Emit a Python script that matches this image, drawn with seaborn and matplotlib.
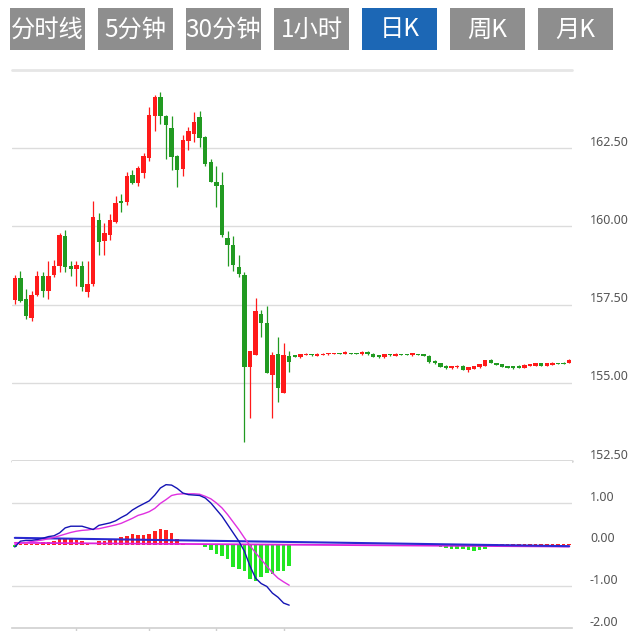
import numpy as np
import matplotlib
matplotlib.use("Agg")
import matplotlib.pyplot as plt
import seaborn as sns
from matplotlib.patches import Rectangle

# ---------------- data ----------------
buttons = ["分时线", "5分钟", "30分钟", "1小时", "日K", "周K", "月K"]
active_button = "日K"

opens = [157.66, 158.36, 157.69, 157.08, 157.82, 158.40, 157.92, 158.46, 158.72, 159.68,
         158.72, 158.65, 158.75, 157.89, 158.17, 160.22, 159.52, 159.71, 160.13, 160.80,
         160.77, 161.64, 161.38, 161.70, 162.18, 163.53, 164.14, 163.53, 163.14, 162.24,
         161.83, 162.73, 162.95, 163.49, 162.85, 162.05, 161.41, 161.31, 159.62, 159.39,
         158.69, 158.46, 155.51, 155.90, 157.21, 156.92, 155.26, 155.93, 154.68, 155.87,
         155.88, 155.82, 155.89, 155.90, 155.87, 155.89, 155.91, 155.92, 155.94, 155.93,
         155.95, 155.95, 155.91, 155.98, 155.93, 155.89, 155.82, 155.90, 155.86, 155.91,
         155.91, 155.88, 155.91, 155.91, 155.86, 155.71, 155.63, 155.55, 155.47, 155.49,
         155.55, 155.42, 155.45, 155.49, 155.55, 155.74, 155.63, 155.60, 155.54, 155.54,
         155.55, 155.47, 155.54, 155.55, 155.62, 155.55, 155.58, 155.63, 155.64, 155.63]
highs = [158.46, 158.59, 158.01, 157.95, 158.56, 158.53, 158.88, 158.91, 159.78, 159.90,
         158.88, 158.88, 158.88, 158.88, 160.80, 160.42, 160.10, 160.39, 160.96, 161.03,
         161.73, 161.80, 161.92, 162.34, 163.81, 164.20, 164.30, 163.56, 163.53, 162.28,
         162.92, 163.17, 163.65, 163.69, 162.89, 162.15, 161.92, 161.73, 159.84, 159.68,
         159.07, 158.53, 156.03, 157.70, 157.34, 157.44, 155.99, 156.48, 156.28, 156.03,
         155.90, 155.93, 155.94, 155.91, 155.94, 155.95, 155.95, 155.96, 155.95, 156.01,
         155.96, 155.96, 156.03, 156.01, 155.94, 155.90, 155.92, 155.91, 155.94, 155.92,
         155.92, 155.95, 155.92, 155.92, 155.88, 155.72, 155.64, 155.56, 155.55, 155.57,
         155.57, 155.50, 155.55, 155.61, 155.73, 155.76, 155.64, 155.61, 155.55, 155.55,
         155.56, 155.59, 155.61, 155.63, 155.63, 155.63, 155.65, 155.64, 155.65, 155.76]
lows = [157.53, 157.57, 157.05, 156.99, 157.76, 157.73, 157.69, 158.37, 158.53, 158.53,
        158.40, 158.08, 157.95, 157.73, 158.08, 159.07, 159.07, 159.58, 160.10, 160.45,
        160.67, 161.35, 161.28, 161.54, 162.08, 163.05, 163.27, 162.15, 161.80, 161.25,
        161.60, 162.44, 162.69, 162.53, 161.92, 161.41, 160.61, 159.65, 158.72, 158.56,
        158.37, 153.11, 153.88, 155.90, 156.48, 155.32, 153.88, 154.39, 154.68, 155.35,
        155.82, 155.80, 155.88, 155.87, 155.86, 155.88, 155.90, 155.91, 155.91, 155.92,
        155.92, 155.91, 155.90, 155.90, 155.83, 155.80, 155.80, 155.87, 155.85, 155.88,
        155.88, 155.87, 155.88, 155.86, 155.63, 155.61, 155.50, 155.45, 155.45, 155.48,
        155.40, 155.36, 155.44, 155.48, 155.54, 155.62, 155.56, 155.49, 155.46, 155.45,
        155.46, 155.46, 155.53, 155.54, 155.54, 155.54, 155.57, 155.60, 155.59, 155.62]
closes = [158.36, 157.61, 157.12, 157.82, 158.43, 157.92, 158.43, 158.72, 159.71, 158.69,
          158.65, 158.78, 158.05, 158.17, 160.29, 159.49, 159.78, 160.19, 160.74, 160.74,
          161.60, 161.38, 161.86, 162.24, 163.56, 164.14, 163.53, 163.24, 162.21, 161.80,
          162.76, 163.05, 163.33, 162.82, 161.99, 161.41, 161.28, 159.74, 159.42, 158.78,
          158.49, 155.51, 156.03, 157.28, 156.92, 155.32, 155.90, 154.84, 155.90, 155.67,
          155.84, 155.91, 155.92, 155.88, 155.92, 155.93, 155.94, 155.95, 155.92, 155.97,
          155.93, 155.92, 155.97, 155.91, 155.84, 155.82, 155.91, 155.88, 155.93, 155.89,
          155.89, 155.94, 155.89, 155.87, 155.65, 155.63, 155.52, 155.47, 155.54, 155.55,
          155.42, 155.49, 155.54, 155.60, 155.72, 155.63, 155.58, 155.50, 155.47, 155.47,
          155.47, 155.58, 155.60, 155.62, 155.55, 155.62, 155.64, 155.61, 155.60, 155.73]

dif = [-0.05, 0.09, 0.11, 0.11, 0.13, 0.16, 0.20, 0.22, 0.29, 0.41,
       0.45, 0.45, 0.45, 0.41, 0.37, 0.47, 0.50, 0.53, 0.58, 0.66,
       0.73, 0.84, 0.92, 0.99, 1.06, 1.20, 1.37, 1.45, 1.44, 1.36,
       1.25, 1.21, 1.20, 1.19, 1.13, 1.01, 0.85, 0.69, 0.49, 0.29,
       0.09, -0.15, -0.51, -0.80, -0.93, -1.00, -1.16, -1.26, -1.40, -1.45]
dea = [0.01, 0.05, 0.06, 0.08, 0.10, 0.12, 0.15, 0.18, 0.22, 0.26,
       0.30, 0.33, 0.35, 0.36, 0.38, 0.39, 0.42, 0.45, 0.48, 0.52,
       0.58, 0.64, 0.71, 0.75, 0.80, 0.88, 1.00, 1.09, 1.19, 1.22,
       1.23, 1.23, 1.23, 1.22, 1.17, 1.11, 1.01, 0.89, 0.73, 0.55,
       0.37, 0.17, -0.02, -0.19, -0.35, -0.51, -0.67, -0.80, -0.89, -0.97]
macd_hist = [-0.05, 0.03, 0.03, 0.02, 0.03, 0.07, 0.06, 0.10, 0.14, 0.17,
             0.14, 0.13, 0.10, 0.02, 0.00, 0.10, 0.10, 0.11, 0.14, 0.18,
             0.21, 0.26, 0.23, 0.23, 0.27, 0.33, 0.39, 0.35, 0.29, 0.14,
             0.03, 0.00, 0.00, 0.00, -0.05, -0.13, -0.23, -0.27, -0.35, -0.53,
             -0.59, -0.63, -0.81, -0.88, -0.77, -0.67, -0.69, -0.63, -0.62, -0.50,
             0, 0, 0, 0, 0, 0, 0, 0, 0, 0,
             0, 0, 0, 0, 0, 0, 0, 0, 0, 0,
             0, 0, 0, 0, 0, 0, -0.06, -0.08, -0.10, -0.10,
             -0.10, -0.13, -0.14, -0.13, -0.11, 0.02, 0.02, 0.02, 0.02, 0.02,
             0.02, 0.02, 0.02, 0.02, 0.02, 0.02, 0.02, 0.02, 0.02, 0.02]
dif_link = [0.17, -0.03]     # DIF values at first and last day
dea_link = [0.05, -0.04]     # DEA values at first and last day

price_ticks = [162.5, 160.0, 157.5, 155.0, 152.5]
macd_ticks = [1.0, 0.0, -1.0, -2.0]
month_ticks = [11, 24, 36, 48]

# ---------------- style ----------------
sns.set_theme(style="white")
plt.rcParams["font.family"] = ["Noto Sans CJK SC", "DejaVu Sans"]

RED = "#ff1a1a"
GREEN = "#219a21"
HIST_RED = "#ff2020"
HIST_GREEN = "#22e622"
GRID = "#dcdcdc"
LABEL = "#555555"

W, H = 634, 631
fig = plt.figure(figsize=(W / 100, H / 100), dpi=100)

def fx(px):
    return px / W

def fy(py):
    return 1 - py / H

# ---------------- buttons ----------------
for i, label in enumerate(buttons):
    x0 = 10 + 88 * i
    col = "#1c67b5" if label == active_button else "#8e8e8e"
    fig.patches.append(Rectangle((fx(x0), fy(50)), 75 / W, 42 / H,
                                 transform=fig.transFigure, facecolor=col,
                                 edgecolor="none"))
    fig.text(fx(x0 + 37.5), fy(29.5), label, color="white", fontsize=17.5,
             ha="center", va="center")

# ---------------- price panel ----------------
ax = fig.add_axes([fx(12), fy(461), 560 / W, 391 / H])
ax.set_xlim(-0.5, 99.5)
ax.set_ylim(152.5, 165.0)
ax.set_axis_off()

for v in price_ticks[:-1]:
    ax.axhline(v, color=GRID, lw=1.0, zorder=0)
ax.axhline(165.0, color="#e6e6e6", lw=2.0, zorder=0, clip_on=False)
ax.axhline(152.5, color="#d6d6d6", lw=2.0, zorder=0, clip_on=False)

o = np.array(opens); h = np.array(highs); l = np.array(lows); c = np.array(closes)
x = np.arange(len(o))
cols = np.where(c >= o, RED, GREEN)
ax.vlines(x, l, h, colors=cols, lw=0.9, zorder=2)
ax.bar(x, np.maximum(np.abs(c - o), 0.035), bottom=np.minimum(o, c), width=0.8,
       color=cols, linewidth=0, zorder=3)

for v in price_ticks:
    ax.annotate(f"{v:.2f}", xy=(1, v), xycoords=("axes fraction", "data"),
                xytext=(18 * 0.72, 6 * 0.72), textcoords="offset points",
                ha="left", va="center", fontsize=9, color=LABEL,
                family=["Noto Sans", "DejaVu Sans"], annotation_clip=False)

# ---------------- MACD panel ----------------
ax2 = fig.add_axes([fx(12), fy(628), 560 / W, 167 / H])
ax2.set_xlim(-0.5, 99.5)
ax2.set_ylim(-2.0, 2.02)
for s in ["top", "left", "right"]:
    ax2.spines[s].set_visible(False)
ax2.spines["bottom"].set_color("#cfcfcf")
ax2.spines["bottom"].set_linewidth(1.2)
ax2.set_yticks([])
ax2.set_xticks(month_ticks)
ax2.tick_params(axis="x", bottom=True, length=4, width=1, color="#cfcfcf",
                labelbottom=False, direction="out")
ax2.set_facecolor("white")

for v in [1.0, -1.0]:
    ax2.axhline(v, color=GRID, lw=1.0, zorder=0)

hist = np.array(macd_hist)
hx = np.arange(len(hist))
ax2.bar(hx, hist, width=0.62, color=np.where(hist >= 0, HIST_RED, HIST_GREEN),
        linewidth=0, zorder=2)

sns.lineplot(x=[0, len(o) - 1], y=dea_link, ax=ax2, color="#dd22dd", lw=1.3,
             zorder=3, legend=False)
sns.lineplot(x=[0, len(o) - 1], y=dif_link, ax=ax2, color="#2a2ad0", lw=1.5,
             zorder=3, legend=False)
sns.lineplot(x=np.arange(len(dea)), y=dea, ax=ax2, color="#e030e0", lw=1.0,
             zorder=4, legend=False)
sns.lineplot(x=np.arange(len(dif)), y=dif, ax=ax2, color="#1414b4", lw=1.0,
             zorder=5, legend=False)
ax2.set_xlabel("")
ax2.set_ylabel("")

for v in macd_ticks:
    ax2.annotate(f"{v:.2f}", xy=(1, v), xycoords=("axes fraction", "data"),
                 xytext=(18 * 0.72, 6 * 0.72), textcoords="offset points",
                 ha="left", va="center", fontsize=9, color=LABEL,
                 family=["Noto Sans", "DejaVu Sans"], annotation_clip=False)

fig.savefig("out.png", dpi=100, facecolor="white")
